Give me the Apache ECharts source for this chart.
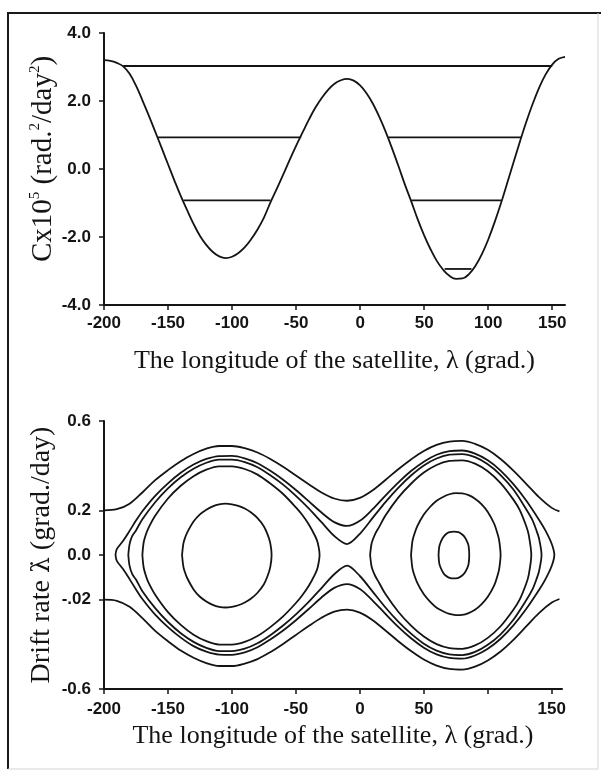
<!DOCTYPE html>
<html>
<head>
<meta charset="utf-8">
<script src="https://cdn.jsdelivr.net/npm/echarts@6/dist/echarts.min.js"></script>
<style>
html,body{margin:0;padding:0;background:#fff;}
#c{width:601px;height:773px;}
</style>
</head>
<body>
<div id="c"></div>
<script>
// ---------- Top panel: C x 10^5 versus longitude ----------
const topTickValuesX = [-200, -150, -100, -50, 0, 50, 100, 150];
const topTickValuesY = [-4, -2, 0, 2, 4];
const topTickLabelsY = ['-4.0', '-2.0', '0.0', '2.0', '4.0'];

const lonC = [-200,-195,-190,-185,-180,-175,-170,-165,-160,-155,-150,-145,-140,-135,-130,-125,-120,-115,-110,-105,
  -100,-95,-90,-85,-80,-75,-70,-65,-60,-55,-50,-45,-40,-35,-30,-25,-20,-15,-10,-5,
  0,5,10,15,20,25,30,35,40,45,50,55,60,65,70,75,80,85,90,95,100,105,110,115,120,125,130,135,140,145,150,155,160];
const cValues = [3.20,3.18,3.12,3.02,2.80,2.45,2.02,1.57,1.10,0.62,0.14,-0.34,-0.80,-1.22,-1.62,-1.97,-2.24,-2.44,-2.57,-2.62,
  -2.58,-2.47,-2.30,-2.06,-1.77,-1.42,-0.98,-0.58,-0.16,0.27,0.68,1.07,1.45,1.80,2.09,2.33,2.51,2.61,2.65,2.60,
  2.46,2.23,1.92,1.53,1.09,0.60,0.08,-0.46,-0.96,-1.48,-1.95,-2.36,-2.71,-2.97,-3.15,-3.23,-3.22,-3.09,-2.85,-2.51,
  -2.08,-1.57,-1.01,-0.40,0.22,0.83,1.41,1.94,2.41,2.79,3.07,3.24,3.30];

// constant-C levels (horizontal segments)
const levelValues = [3.03, 0.93, 0.93, -0.92, -0.92, -2.94];
const levelStarts = [-185, -158, 22, -138, 40, 66];
const levelEnds   = [150, -46, 126, -70, 110, 87];

// ---------- Bottom panel: drift rate versus longitude ----------
const botTickValuesX = [-200, -150, -100, -50, 0, 50, 100, 150];
const botLabelValuesX = [-200, -150, -100, -50, 0, 50, 150];
const botTickValuesY = [-0.6, -0.2, 0, 0.2, 0.6];
const botTickLabelsY = ['-0.6', '-.02', '0.0', '0.2', '0.6'];

// circulating trajectories (open curves)
const outerLon = [-200,-190,-180,-170,-160,-150,-140,-130,-120,-110,-100,-90,-80,-70,-60,-50,-40,-30,-20,-10,
  0,10,20,30,40,50,60,70,80,90,100,110,120,130,140,150,156];
const outerUpper = [0.2,0.205,0.23,0.28,0.335,0.38,0.42,0.452,0.476,0.488,0.488,0.478,0.459,0.43,0.395,0.356,0.317,0.28,0.253,0.243,
  0.256,0.29,0.336,0.384,0.428,0.466,0.493,0.508,0.511,0.498,0.471,0.43,0.378,0.319,0.259,0.211,0.195];
const outerLower = [-0.2,-0.205,-0.232,-0.283,-0.34,-0.386,-0.428,-0.46,-0.484,-0.497,-0.497,-0.486,-0.466,-0.435,-0.398,-0.358,-0.318,-0.281,-0.254,-0.245,
  -0.258,-0.292,-0.338,-0.386,-0.43,-0.468,-0.495,-0.51,-0.513,-0.5,-0.472,-0.432,-0.38,-0.32,-0.26,-0.213,-0.197];

// large loop enclosing both wells (outer)
const s1Lon = [-191,-190,-185,-180,-175,-170,-160,-150,-140,-130,-120,-110,-100,-90,-80,-70,-60,-50,-40,-30,-20,-10,
  0,10,20,30,40,50,60,70,80,90,100,110,120,130,140,145,150,152];
const s1Upper = [0,0.026,0.064,0.108,0.154,0.196,0.265,0.321,0.368,0.405,0.43,0.443,0.444,0.433,0.411,0.377,0.337,0.291,0.241,0.19,0.147,0.13,
  0.153,0.205,0.266,0.324,0.376,0.418,0.449,0.465,0.468,0.454,0.424,0.378,0.317,0.244,0.158,0.11,0.049,0];
const s1Lower = [0,-0.026,-0.064,-0.108,-0.154,-0.197,-0.267,-0.323,-0.37,-0.408,-0.433,-0.446,-0.447,-0.436,-0.413,-0.378,-0.338,-0.292,-0.242,-0.19,-0.147,-0.13,
  -0.152,-0.204,-0.264,-0.322,-0.373,-0.415,-0.445,-0.461,-0.464,-0.45,-0.42,-0.375,-0.315,-0.242,-0.157,-0.109,-0.048,0];

// large loop enclosing both wells (inner)
const s2Lon = [-181,-180,-178,-175,-170,-160,-150,-140,-130,-120,-110,-100,-90,-80,-70,-60,-50,-40,-30,-20,-10,
  0,10,20,30,40,50,60,70,80,90,100,110,120,130,135,138,140,142];
const s2Upper = [0,0.049,0.085,0.11,0.16,0.236,0.298,0.348,0.386,0.413,0.427,0.427,0.416,0.393,0.357,0.315,0.265,0.209,0.147,0.085,0.049,
  0.095,0.166,0.237,0.301,0.356,0.401,0.432,0.449,0.452,0.438,0.406,0.358,0.293,0.205,0.155,0.11,0.075,0];
const s2Lower = [0,-0.049,-0.085,-0.11,-0.162,-0.238,-0.3,-0.35,-0.389,-0.416,-0.43,-0.43,-0.419,-0.395,-0.359,-0.316,-0.266,-0.21,-0.148,-0.086,-0.048,
  -0.094,-0.164,-0.235,-0.298,-0.352,-0.397,-0.428,-0.445,-0.448,-0.434,-0.402,-0.355,-0.29,-0.203,-0.153,-0.109,-0.074,0];

// libration loops in the western well
const leftLoopLon = [-170,-169,-167,-165,-160,-150,-140,-130,-120,-110,-100,-90,-80,-70,-60,-50,-45,-40,-35,-33,-31.5];
const leftLoopUpper = [0,0.056,0.096,0.124,0.176,0.253,0.31,0.353,0.382,0.397,0.397,0.385,0.36,0.32,0.273,0.213,0.179,0.138,0.085,0.056,0];
const leftLoopLower = [0,-0.056,-0.097,-0.126,-0.178,-0.256,-0.313,-0.357,-0.386,-0.401,-0.401,-0.389,-0.363,-0.323,-0.275,-0.215,-0.18,-0.139,-0.086,-0.056,0];

const leftCoreLon = [-139,-138,-137,-135,-130,-125,-120,-115,-110,-105,-100,-95,-90,-85,-80,-75,-72,-70,-69];
const leftCoreUpper = [0,0.05,0.071,0.1,0.15,0.182,0.203,0.218,0.227,0.23,0.227,0.22,0.208,0.19,0.165,0.128,0.09,0.052,0];
const leftCoreLower = [0,-0.051,-0.073,-0.103,-0.154,-0.187,-0.208,-0.223,-0.232,-0.235,-0.232,-0.225,-0.213,-0.195,-0.169,-0.131,-0.092,-0.053,0];

// libration loops in the eastern well
const rightLoopLon = [8,9,10,12,15,20,30,40,50,60,70,80,90,100,110,120,125,130,132,134];
const rightLoopUpper = [0,0.047,0.067,0.095,0.125,0.177,0.257,0.319,0.369,0.403,0.421,0.424,0.409,0.375,0.322,0.248,0.201,0.13,0.09,0];
const rightLoopLower = [0,-0.047,-0.067,-0.094,-0.124,-0.175,-0.254,-0.316,-0.365,-0.399,-0.417,-0.42,-0.405,-0.371,-0.319,-0.245,-0.199,-0.129,-0.089,0];

const rightMidLon = [40,41,42,45,50,55,60,65,70,75,80,85,90,95,100,105,108,109,110];
const rightMidUpper = [0,0.059,0.083,0.13,0.181,0.216,0.243,0.26,0.272,0.277,0.276,0.268,0.252,0.228,0.193,0.14,0.087,0.061,0];
const rightMidLower = [0,-0.057,-0.08,-0.126,-0.176,-0.21,-0.236,-0.252,-0.264,-0.269,-0.268,-0.26,-0.245,-0.221,-0.187,-0.136,-0.084,-0.059,0];

const rightCoreLon = [61.5,62,63,65,67,70,73.5,77,80,82,84,85,85.5];
const rightCoreUpper = [0,0.035,0.055,0.078,0.092,0.102,0.105,0.102,0.092,0.08,0.058,0.04,0];
const rightCoreLower = [0,-0.035,-0.055,-0.078,-0.092,-0.102,-0.105,-0.102,-0.092,-0.08,-0.058,-0.04,0];

// ---------- build ----------
const INK = '#141414';
function pairs(xs, ys) { return xs.map((x, i) => [x, ys[i]]); }
function loop(xs, up, low) { return pairs(xs, up).concat(pairs(xs, low).reverse()); }
function labelFrom(values, labels) {
  return function (v) {
    let best = 0;
    for (let i = 1; i < values.length; i++) if (Math.abs(values[i] - v) < Math.abs(values[best] - v)) best = i;
    return labels[best];
  };
}
function curve(data, gi, smooth) {
  return { type: 'line', xAxisIndex: gi, yAxisIndex: gi, data: data, symbol: 'none',
    smooth: smooth, lineStyle: { color: INK, width: 1.8 }, silent: true };
}

const tickFont = { color: INK, fontFamily: 'Liberation Sans, Arial, sans-serif', fontWeight: 'bold', fontSize: 17 };
const lineStyleAxis = { color: INK, width: 2 };

const series = [];
series.push(curve(pairs(lonC, cValues), 0, 0.4));
for (let i = 0; i < levelValues.length; i++) {
  series.push(curve([[levelStarts[i], levelValues[i]], [levelEnds[i], levelValues[i]]], 0, false));
}
series.push(curve(pairs(outerLon, outerUpper), 1, 0.35));
series.push(curve(pairs(outerLon, outerLower), 1, 0.35));
series.push(curve(loop(s1Lon, s1Upper, s1Lower), 1, 0.3));
series.push(curve(loop(s2Lon, s2Upper, s2Lower), 1, 0.3));
series.push(curve(loop(leftLoopLon, leftLoopUpper, leftLoopLower), 1, 0.3));
series.push(curve(loop(leftCoreLon, leftCoreUpper, leftCoreLower), 1, 0.3));
series.push(curve(loop(rightLoopLon, rightLoopUpper, rightLoopLower), 1, 0.3));
series.push(curve(loop(rightMidLon, rightMidUpper, rightMidLower), 1, 0.3));
series.push(curve(loop(rightCoreLon, rightCoreUpper, rightCoreLower), 1, 0.3));

const xTitle = 'The longitude of the satellite, λ (grad.)';
const serif = 'Liberation Serif, Times New Roman, serif';

const option = {
  animation: false,
  backgroundColor: '#ffffff',
  grid: [
    { left: 104, top: 33, width: 461, height: 272, outerBoundsMode: 'none', containLabel: false },
    { left: 104, top: 421, width: 458, height: 268, outerBoundsMode: 'none', containLabel: false }
  ],
  xAxis: [
    { gridIndex: 0, type: 'value', min: -200, max: 160,
      axisLine: { show: true, onZero: false, lineStyle: lineStyleAxis },
      axisTick: { show: true, inside: false, length: 5, customValues: topTickValuesX, lineStyle: { color: INK, width: 1.5 } },
      axisLabel: Object.assign({ margin: 10, customValues: topTickValuesX }, tickFont),
      splitLine: { show: false },
      name: xTitle, nameLocation: 'middle', nameGap: 43, nameMoveOverlap: false,
      nameTextStyle: { fontFamily: serif, fontSize: 26, color: INK } },
    { gridIndex: 1, type: 'value', min: -200, max: 158,
      axisLine: { show: true, onZero: false, lineStyle: lineStyleAxis },
      axisTick: { show: true, inside: false, length: 5, customValues: botTickValuesX, lineStyle: { color: INK, width: 1.5 } },
      axisLabel: Object.assign({ margin: 12, customValues: botLabelValuesX }, tickFont),
      splitLine: { show: false },
      name: xTitle, nameLocation: 'middle', nameGap: 34, nameMoveOverlap: false,
      nameTextStyle: { fontFamily: serif, fontSize: 26, color: INK } }
  ],
  yAxis: [
    { gridIndex: 0, type: 'value', min: -4, max: 4,
      axisLine: { show: true, onZero: false, lineStyle: lineStyleAxis },
      axisTick: { show: true, inside: false, length: 5, customValues: topTickValuesY, lineStyle: { color: INK, width: 1.5 } },
      axisLabel: Object.assign({ margin: 13, customValues: topTickValuesY, formatter: labelFrom(topTickValuesY, topTickLabelsY) }, tickFont),
      splitLine: { show: false },
      name: '{t|Cx10}{s|5}{t| (rad.}{s|2}{t|/day}{s|2}{t|)}',
      nameLocation: 'middle', nameGap: 45, nameMoveOverlap: false,
      nameTextStyle: {
        padding: [0, 0, 0, 20],
        rich: {
          t: { fontFamily: serif, fontSize: 29, color: INK, lineHeight: 31 },
          s: { fontFamily: serif, fontSize: 15, color: INK, verticalAlign: 'top', lineHeight: 31 }
        }
      } },
    { gridIndex: 1, type: 'value', min: -0.6, max: 0.6,
      axisLine: { show: true, onZero: false, lineStyle: lineStyleAxis },
      axisTick: { show: true, inside: false, length: 5, customValues: botTickValuesY, lineStyle: { color: INK, width: 1.5 } },
      axisLabel: Object.assign({ margin: 13, customValues: botTickValuesY, formatter: labelFrom(botTickValuesY, botTickLabelsY) }, tickFont),
      splitLine: { show: false },
      name: '{t|Drift rate }{g|λ\u0307}{t| (grad./day)}',
      nameLocation: 'middle', nameGap: 47, nameMoveOverlap: false,
      nameTextStyle: {
        rich: {
          t: { fontFamily: serif, fontSize: 28, color: INK, lineHeight: 30 },
          g: { fontFamily: 'DejaVu Serif, serif', fontSize: 25, color: INK, lineHeight: 30 }
        }
      } }
  ],
  graphic: [
    { type: 'line', silent: true, shape: { x1: 7, y1: 13, x2: 601, y2: 13 }, style: { stroke: '#1a1a1a', lineWidth: 2 } },
    { type: 'line', silent: true, shape: { x1: 8, y1: 12, x2: 8, y2: 769 }, style: { stroke: '#1a1a1a', lineWidth: 2 } },
    { type: 'line', silent: true, shape: { x1: 598, y1: 13, x2: 598, y2: 769 }, style: { stroke: '#d4d4d4', lineWidth: 1 } },
    { type: 'line', silent: true, shape: { x1: 8, y1: 769, x2: 598, y2: 769 }, style: { stroke: '#d4d4d4', lineWidth: 1 } }
  ],
  series: series
};

const chart = echarts.init(document.getElementById('c'), null, { renderer: 'canvas' });
chart.setOption(option);
</script>
</body>
</html>
